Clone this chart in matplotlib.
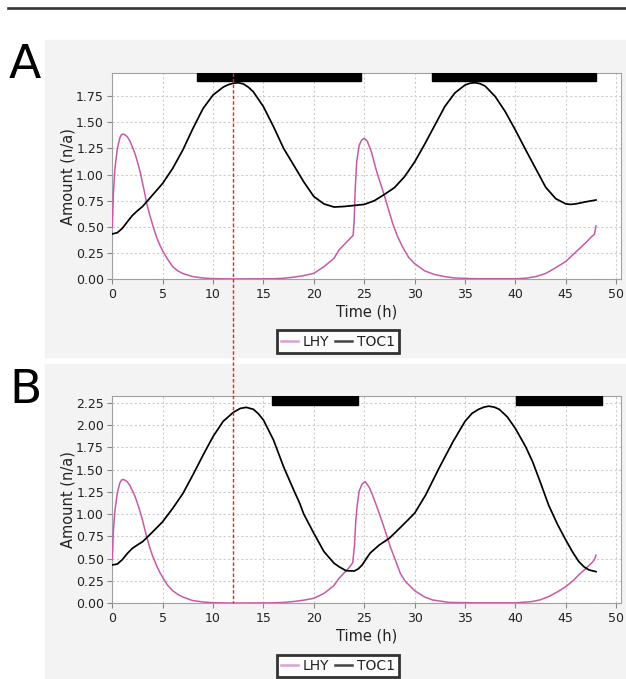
import numpy as np
import matplotlib.pyplot as plt
from matplotlib.lines import Line2D
from matplotlib.patches import Rectangle

# panel A: LHY and TOC1 amounts
t_lhy_a = [0, 0.1, 0.25, 0.5, 0.75, 0.9, 1.08, 1.25, 1.5, 1.75, 2, 2.25, 2.5, 2.75, 3, 3.2, 3.4,
           3.7, 4, 4.4, 4.7, 5, 5.5, 6, 6.5, 7, 8, 9, 10, 12, 16, 17, 18, 19, 20, 21, 22, 22.5,
           23, 23.5, 23.9, 24.0, 24.1, 24.25, 24.5, 24.75, 25.0, 25.3, 25.7, 26.2, 26.6, 27.0,
           27.4, 27.8, 28.3, 28.8, 29.4, 30, 31, 32, 33, 34, 36, 40, 41, 42, 43, 44, 45, 46, 47,
           47.6, 47.85, 48]
lhy_a = [0.5, 0.8, 1.05, 1.25, 1.35, 1.38, 1.387, 1.38, 1.36, 1.32, 1.26, 1.2, 1.12, 1.03, 0.92,
         0.83, 0.73, 0.62, 0.52, 0.40, 0.33, 0.27, 0.19, 0.12, 0.08, 0.055, 0.025, 0.012, 0.006,
         0.003, 0.005, 0.01, 0.02, 0.035, 0.057, 0.12, 0.2, 0.28, 0.33, 0.38, 0.42, 0.55, 0.85,
         1.12, 1.28, 1.33, 1.346, 1.32, 1.22, 1.04, 0.92, 0.80, 0.67, 0.54, 0.41, 0.31, 0.21,
         0.15, 0.08, 0.045, 0.025, 0.012, 0.005, 0.005, 0.01, 0.025, 0.055, 0.11, 0.17, 0.26,
         0.35, 0.41, 0.43, 0.51]

t_toc1_a = [0, 0.5, 1, 1.5, 2, 2.5, 3, 3.5, 4, 5, 6, 7, 8, 9, 10, 11, 11.5, 12, 12.5, 13, 13.5,
            14, 15, 16, 17, 18, 19, 20, 21, 22, 23, 24, 25, 26, 27, 28, 29, 30, 31, 32, 33, 34,
            35, 35.5, 36, 36.5, 37, 38, 39, 40, 41, 42, 43, 44, 45, 45.5, 46, 47, 48]
toc1_a = [0.433, 0.445, 0.487, 0.55, 0.61, 0.655, 0.695, 0.75, 0.805, 0.916, 1.06, 1.235, 1.44,
          1.63, 1.76, 1.835, 1.858, 1.872, 1.877, 1.866, 1.835, 1.79, 1.648, 1.457, 1.25, 1.09,
          0.93, 0.79, 0.72, 0.69, 0.695, 0.705, 0.715, 0.75, 0.81, 0.875, 0.98, 1.12, 1.29, 1.47,
          1.65, 1.78, 1.855, 1.872, 1.877, 1.868, 1.845, 1.745, 1.6, 1.425, 1.24, 1.06, 0.88,
          0.77, 0.72, 0.715, 0.72, 0.74, 0.757]

# panel B
t_lhy_b = [0, 0.1, 0.25, 0.5, 0.75, 0.9, 1.08, 1.25, 1.5, 1.75, 2, 2.25, 2.5, 2.75, 3, 3.2, 3.4,
           3.7, 4, 4.4, 4.7, 5, 5.5, 6, 6.5, 7, 8, 9, 10, 12, 16, 17, 18, 19, 20, 21, 22, 22.5,
           23, 23.5, 23.86, 24.03, 24.15, 24.3, 24.5, 24.8, 25.1, 25.5, 25.8, 26.2, 26.7, 27.16,
           27.6, 28.15, 28.6, 29.1, 30, 31, 31.8, 33.4, 36, 40, 41.7, 42.5, 43.3, 44.2, 45,
           45.7, 46.3, 47, 47.6, 47.85, 48]
lhy_b = [0.49, 0.8, 1.03, 1.24, 1.35, 1.38, 1.39, 1.38, 1.36, 1.32, 1.26, 1.2, 1.12, 1.03, 0.93,
         0.84, 0.75, 0.63, 0.53, 0.42, 0.35, 0.29, 0.2, 0.14, 0.1, 0.07, 0.03, 0.015, 0.006,
         0.003, 0.005, 0.01, 0.02, 0.035, 0.056, 0.11, 0.2, 0.28, 0.34, 0.4, 0.456, 0.64, 0.9,
         1.1, 1.26, 1.34, 1.364, 1.3, 1.22, 1.1, 0.94, 0.785, 0.63, 0.467, 0.33, 0.243, 0.142,
         0.07, 0.037, 0.01, 0.005, 0.005, 0.02, 0.04, 0.075, 0.13, 0.187, 0.25, 0.32, 0.39,
         0.456, 0.49, 0.54]

t_toc1_b = [0, 0.5, 1, 1.5, 2, 2.5, 3, 3.5, 4, 5, 6, 7, 8, 9, 10, 11, 12, 12.7, 13.3, 14, 14.5,
            15, 16, 17, 18, 18.6, 19, 20, 21, 22, 22.5, 23.2, 24, 24.4, 24.8, 25.2, 25.6, 26.5,
            27.5, 28.5, 29.3, 30, 31.1, 32.4, 33.8, 35, 35.7, 36.35, 36.9, 37.35, 37.9, 38.4,
            39.2, 40, 41, 41.7, 42.5, 43.3, 44.2, 45, 45.7, 46.3, 46.8, 47.3, 48]
toc1_b = [0.43, 0.44, 0.49, 0.56, 0.617, 0.655, 0.69, 0.745, 0.80, 0.915, 1.065, 1.23, 1.44, 1.66,
          1.87, 2.04, 2.14, 2.185, 2.197, 2.175, 2.125, 2.055, 1.83, 1.53, 1.27, 1.12, 1.0,
          0.785, 0.58, 0.45, 0.41, 0.365, 0.362, 0.385, 0.43, 0.5, 0.565, 0.654, 0.73, 0.84,
          0.93, 1.01, 1.215, 1.51, 1.81, 2.04, 2.13, 2.175, 2.2, 2.21, 2.2, 2.175, 2.09, 1.96,
          1.76, 1.59, 1.35, 1.10, 0.88, 0.71, 0.57, 0.467, 0.41, 0.374, 0.355]

# dark periods shown as black bars along the top
dark_a = [(8.4, 24.7), (31.75, 48.05)]
dark_b = [(15.8, 24.35), (40.05, 48.6)]
marker_time = 12

yticks_a = np.arange(0, 1.76, 0.25)
yticks_b = np.arange(0, 2.26, 0.25)
xticks = np.arange(0, 51, 5)

LHY_COLOR = "#c65aa6"
PANEL_BG = "#f2f3f2"

fig = plt.figure(figsize=(6.26, 6.79), dpi=100)

fig.add_artist(Line2D([0.0128, 1.0], [0.9875, 0.9875], transform=fig.transFigure,
                      color="#333333", lw=1.9))
fig.add_artist(Rectangle((0.0719, 0.4747), 0.93, 0.4664, transform=fig.transFigure,
                         color=PANEL_BG, zorder=-5))
fig.add_artist(Rectangle((0.0719, 0.0), 0.93, 0.4639, transform=fig.transFigure,
                         color=PANEL_BG, zorder=-5))

fig.text(0.0144, 0.885, "A", fontsize=34, ha="left", va="baseline")
fig.text(0.0144, 0.4065, "B", fontsize=34, ha="left", va="baseline")

ax_a = fig.add_axes([0.1794, 0.5887, 0.8121, 0.3038])
ax_b = fig.add_axes([0.1794, 0.1115, 0.8121, 0.3046])


def style_axes(ax, yticks, ytop, dark):
    ax.set_xlim(0, 50.45)
    ax.set_ylim(0, ytop)
    ax.set_xticks(xticks)
    ax.set_yticks(yticks)
    ax.set_yticklabels(["%.2f" % v for v in yticks])
    ax.grid(True, color="#cdcdcd", linestyle=(0, (2, 2)), lw=0.8)
    ax.set_axisbelow(True)
    for s in ax.spines.values():
        s.set_color("#a0a0a0")
    ax.tick_params(colors="#888888", labelcolor="#222222", length=3.5, width=0.8,
                   labelsize=9, pad=2.5)
    ax.set_xlabel("Time (h)", fontsize=10.5, color="#222222")
    ax.xaxis.set_label_coords(0.5, -0.12)
    ax.set_ylabel("Amount (n/a)", fontsize=10.5, color="#222222")
    ax.yaxis.set_label_coords(-0.073, 0.5)
    for start, end in dark:
        ax.axvspan(start, end, ymin=0.961, ymax=1.0, color="black", zorder=4)


style_axes(ax_a, yticks_a, 1.97, dark_a)
style_axes(ax_b, yticks_b, 2.319, dark_b)

ax_a.plot(t_lhy_a, lhy_a, color=LHY_COLOR, lw=1.1, zorder=3)
ax_a.plot(t_toc1_a, toc1_a, color="black", lw=1.25, zorder=3)
ax_b.plot(t_lhy_b, lhy_b, color=LHY_COLOR, lw=1.1, zorder=3)
ax_b.plot(t_toc1_b, toc1_b, color="black", lw=1.25, zorder=3)

# red dashed marker running through both panels
to_fig = fig.transFigure.inverted()
x_top, y_top = to_fig.transform(ax_a.transData.transform((marker_time, 1.97)))
x_bot, y_bot = to_fig.transform(ax_b.transData.transform((marker_time, 0)))
fig.add_artist(Line2D([x_top, x_bot], [y_top, y_bot], transform=fig.transFigure,
                      color="#ff1a1a", lw=1.0, linestyle=(0, (2.5, 1.5)), zorder=10))

handles = [Line2D([], [], color="#d9a2cf", lw=1.8), Line2D([], [], color="#444444", lw=1.8)]
for yc in (0.497, 0.0195):
    leg = fig.legend(handles, ["LHY", "TOC1"], loc="center", bbox_to_anchor=(0.540, yc),
                     ncol=2, fontsize=10, frameon=True, fancybox=False, handlelength=1.25,
                     handletextpad=0.35, columnspacing=0.4, borderpad=0.3, borderaxespad=0)
    leg.get_frame().set_edgecolor("black")
    leg.get_frame().set_linewidth(2.0)
    for txt in leg.get_texts():
        txt.set_color("#222222")

fig.savefig("out.png", dpi=100)
